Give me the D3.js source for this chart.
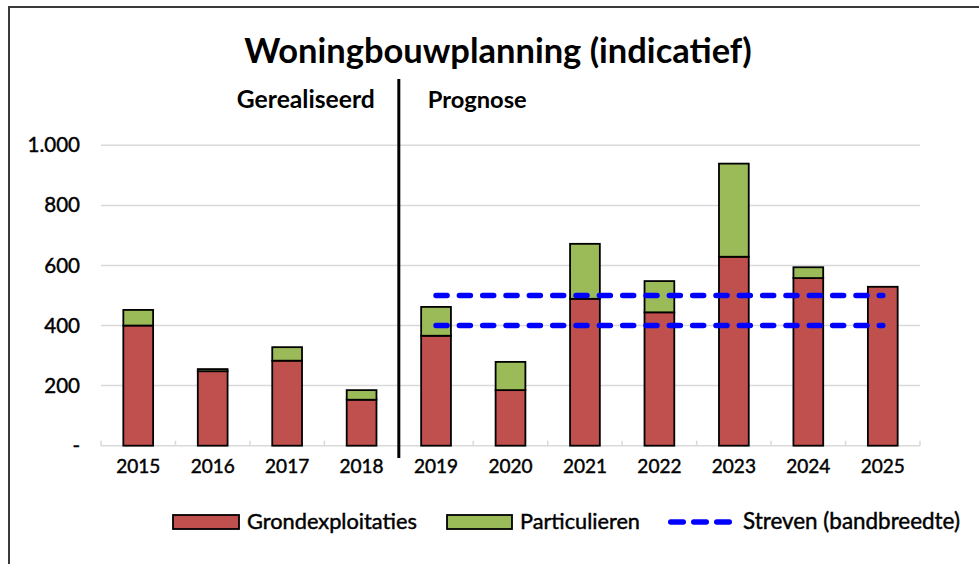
<!DOCTYPE html>
<html><head><meta charset="utf-8">
<script src="https://cdn.jsdelivr.net/npm/d3@7"></script>
<style>
body{margin:0;background:#fff}
svg{display:block}
text{font-family:Lato,"Open Sans",sans-serif;fill:#000}
.heavy{stroke:#000;stroke-width:0.45px;paint-order:stroke}
</style>
</head><body>
<svg id="chart" width="979" height="564"></svg>
<script>
// ---- data ----
const years = ["2015","2016","2017","2018","2019","2020","2021","2022","2023","2024","2025"];
const grondexploitaties = [400, 248, 283, 153, 366, 185, 489, 444, 629, 558, 529];
const particulieren     = [ 52,   7,  45,  32,  96,  94, 183, 104, 310,  36,   0];
const strevenLevels = [400, 500];
const strevenYears  = ["2019", "2025"];
const yTicks = [0, 200, 400, 600, 800, 1000];
const seriesNames = ["Grondexploitaties", "Particulieren", "Streven (bandbreedte)"];
const periodLabels = ["Gerealiseerd", "Prognose"];
const firstPrognoseYear = "2019";
const title = "Woningbouwplanning (indicatief)";

// ---- styles ----
const RED = "#c0504d", GREEN = "#9bbb59", BLUE = "#0000ff", GRID = "#d9d9d9";

const svg = d3.select("#chart");

const x = d3.scaleBand().domain(years).range([101, 920]).paddingInner(0.6).paddingOuter(0.3);
const y = d3.scaleLinear().domain([0, 1000]).range([445.7, 145.3]);
const step = x.step();
const x0 = x.range()[0];

const nl = d3.formatLocale({decimal: ",", thousands: ".", grouping: [3], currency: ["€", ""]});
const fmt = v => v === 0 ? "-" : nl.format(",")(v);

function fit(sel, target) {
  const node = sel.node();
  const w = node.getComputedTextLength();
  const fs = parseFloat(sel.attr("font-size"));
  sel.attr("font-size", fs * target / w);
}

// border
svg.append("path").attr("d", "M9,564V7H979").attr("fill", "none").attr("stroke", "#3a3a3a").attr("stroke-width", 2);

// gridlines
svg.append("g").selectAll("line").data(yTicks.filter(d => d > 0)).join("line")
  .attr("x1", x0).attr("x2", x.range()[1])
  .attr("y1", d => y(d)).attr("y2", d => y(d))
  .attr("stroke", GRID).attr("stroke-width", 1.5);

// y axis labels via d3 axis
const yAxis = svg.append("g").attr("transform", `translate(${x0},0)`)
  .call(d3.axisLeft(y).tickValues(yTicks).tickFormat(fmt).tickSize(0).tickPadding(21));
yAxis.select(".domain").remove();
yAxis.selectAll("text").attr("font-size", 20.5).attr("font-family", "Lato").attr("fill", "#000").attr("class", "heavy");

// x axis line with boundary ticks pointing up
svg.append("line").attr("x1", x0).attr("x2", x.range()[1]).attr("y1", y(0)).attr("y2", y(0))
  .attr("stroke", GRID).attr("stroke-width", 1.5);
svg.append("g").selectAll("line").data(d3.range(years.length + 1)).join("line")
  .attr("x1", i => x0 + i * step).attr("x2", i => x0 + i * step)
  .attr("y1", y(0)).attr("y2", y(0) - 5)
  .attr("stroke", GRID).attr("stroke-width", 1.5);

const xAxis = svg.append("g").attr("transform", `translate(0,${y(0)})`)
  .call(d3.axisBottom(x).tickSize(0).tickPadding(14));
xAxis.select(".domain").remove();
xAxis.selectAll("text").attr("font-size", 19).attr("font-family", "Lato").attr("fill", "#000").attr("class", "heavy");

// bars
const rows = years.map((yr, i) => ({yr, g: grondexploitaties[i], p: particulieren[i]}));
const bars = svg.append("g");
bars.selectAll("rect.g").data(rows).join("rect").attr("class", "g")
  .attr("x", d => x(d.yr)).attr("width", x.bandwidth())
  .attr("y", d => y(d.g)).attr("height", d => y(0) - y(d.g))
  .attr("fill", RED).attr("stroke", "#000").attr("stroke-width", 1.8);
bars.selectAll("rect.p").data(rows.filter(d => d.p > 0)).join("rect").attr("class", "p")
  .attr("x", d => x(d.yr)).attr("width", x.bandwidth())
  .attr("y", d => y(d.g + d.p)).attr("height", d => y(d.g) - y(d.g + d.p))
  .attr("fill", GREEN).attr("stroke", "#000").attr("stroke-width", 1.8);

// streven lines
svg.append("g").selectAll("line").data(strevenLevels).join("line")
  .attr("x1", x(strevenYears[0]) + x.bandwidth() / 2)
  .attr("x2", x(strevenYears[1]) + x.bandwidth() / 2)
  .attr("y1", d => y(d)).attr("y2", d => y(d))
  .attr("stroke", BLUE).attr("stroke-width", 5.5).attr("stroke-linecap", "round")
  .attr("stroke-dasharray", "11,12.33");

// separator
const sx = x0 + years.indexOf(firstPrognoseYear) * step;
svg.append("line").attr("x1", sx).attr("x2", sx).attr("y1", 79).attr("y2", 458)
  .attr("stroke", "#000").attr("stroke-width", 3);

// period labels
const t1 = svg.append("text").attr("x", sx - 24).attr("y", 108).attr("text-anchor", "end")
  .attr("font-weight", "bold").attr("font-size", 19).text(periodLabels[0]);
fit(t1, 138);
const t2 = svg.append("text").attr("x", sx + 29).attr("y", 108).attr("text-anchor", "start")
  .attr("font-weight", "bold").attr("font-size", 19).text(periodLabels[1]);
fit(t2, 99);

// title
const tt = svg.append("text").attr("x", 498).attr("y", 63).attr("text-anchor", "middle")
  .attr("font-weight", "bold").attr("font-size", 32).text(title);
fit(tt, 508);

// legend
const lg = svg.append("g");
const items = [
  {name: seriesNames[0], type: "rect", color: RED, sx: 173, sw: 66, tx: 247, tw: 170},
  {name: seriesNames[1], type: "rect", color: GREEN, sx: 447, sw: 65, tx: 520, tw: 120},
  {name: seriesNames[2], type: "line", color: BLUE, sx: 668, sw: 65, tx: 743, tw: 217}
];
items.forEach(it => {
  if (it.type === "rect") {
    lg.append("rect").attr("x", it.sx).attr("y", 515).attr("width", it.sw).attr("height", 14)
      .attr("fill", it.color).attr("stroke", "#000").attr("stroke-width", 1.8);
  } else {
    lg.append("line").attr("x1", it.sx + 2.75).attr("x2", it.sx + it.sw - 2.75)
      .attr("y1", 522).attr("y2", 522)
      .attr("stroke", it.color).attr("stroke-width", 5.5).attr("stroke-linecap", "round")
      .attr("stroke-dasharray", "12.5,10.5");
  }
  const t = lg.append("text").attr("x", it.tx).attr("y", 528.5).attr("font-size", 18)
    .attr("class", "heavy").text(it.name);
  fit(t, it.tw);
});
</script>
</body></html>
